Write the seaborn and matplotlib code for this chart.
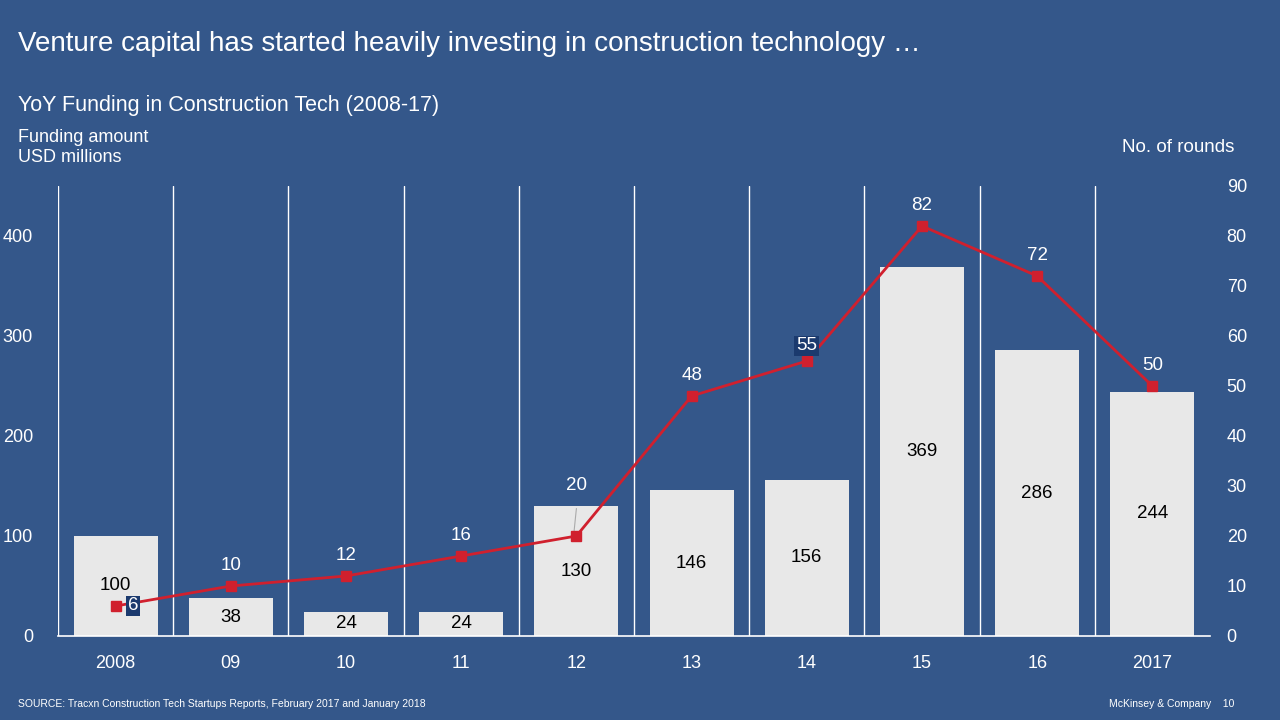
import matplotlib
matplotlib.use("Agg")
import matplotlib.pyplot as plt
import seaborn as sns
import pandas as pd
import numpy as np

years = ["2008", "09", "10", "11", "12", "13", "14", "15", "16", "2017"]
funding = [100, 38, 24, 24, 130, 146, 156, 369, 286, 244]
rounds = [6, 10, 12, 16, 20, 48, 55, 82, 72, 50]

BG = "#34578A"
BAR = "#E8E8E8"
RED = "#D0202E"
BOX = "#1B3A6E"

sns.set_theme(style="white")
plt.rcParams['font.family'] = ['Liberation Sans', 'DejaVu Sans']

fig = plt.figure(figsize=(12.8, 7.2), dpi=100, facecolor=BG)
ax = fig.add_axes([58/1280, 1-636/720, 1152/1280, 450/720])
ax.set_facecolor(BG)
df = pd.DataFrame({"year": years, "funding": funding})
sns.barplot(data=df, x="year", y="funding", color=BAR, width=0.73, ax=ax, saturation=1,
            edgecolor="none")
ax.set_xlim(-0.5, 9.5)
ax.set_ylim(0, 450)
for s in ["top", "right", "left"]:
    ax.spines[s].set_visible(False)
ax.spines["bottom"].set_color("white")
ax.spines["bottom"].set_linewidth(1.2)
ax.set_xlabel(""); ax.set_ylabel("")
ax.set_yticks([0, 100, 200, 300, 400])
ax.tick_params(axis="y", colors="white", labelsize=13, length=0, pad=18)
ax.tick_params(axis="x", colors="white", labelsize=13, length=0, pad=14)
for t in ax.get_yticklabels() + ax.get_xticklabels():
    t.set_color("white")
for i in range(10):
    ax.axvline(i - 0.5, color="white", lw=1, zorder=0.5)
for i, v in enumerate(funding):
    ax.text(i, v / 2, str(v), ha="center", va="center", fontsize=13.5, color="black", zorder=5)

ax2 = ax.twinx()
ax2.set_ylim(0, 90)
ax2.set_xlim(-0.5, 9.5)
ax2.plot(range(10), rounds, color=RED, lw=2, marker="s", markersize=7, zorder=4)
for s in ["top", "right", "left", "bottom"]:
    ax2.spines[s].set_visible(False)
ax2.set_yticks(range(0, 91, 10))
ax2.tick_params(axis="y", colors="white", labelsize=13, length=0, pad=12)
for t in ax2.get_yticklabels():
    t.set_color("white")
for i, r in enumerate(rounds):
    if i == 0:
        ax2.text(i + 0.15, r, str(r), ha="center", va="center", fontsize=13.5, color="white",
                 bbox=dict(boxstyle="square,pad=0.1", fc=BOX, ec="none"), zorder=6)
    elif r == 55:
        ax2.text(i, r + 3, str(r), ha="center", va="center", fontsize=13.5, color="white",
                 bbox=dict(boxstyle="square,pad=0.1", fc=BOX, ec="none"), zorder=6)
    elif i == 4:
        ax2.text(i, r + 10, str(r), ha="center", va="center", fontsize=13.5, color="white", zorder=6)
    else:
        ax2.text(i, r + 4, str(r), ha="center", va="center", fontsize=13.5, color="white", zorder=6)
ax2.plot([3.98, 4.0], [21, 25.5], color="#AAAAAA", lw=0.8, zorder=3)

fig.text(18/1280, 1-44/720, "Venture capital has started heavily investing in construction technology …",
         color="white", fontsize=20, va="center")
fig.text(18/1280, 1-105/720, "YoY Funding in Construction Tech (2008-17)", color="white", fontsize=15.5, va="center")
fig.text(18/1280, 1-137/720, "Funding amount", color="white", fontsize=13, va="center")
fig.text(18/1280, 1-158/720, "USD millions", color="white", fontsize=13, va="center")
fig.text(1234/1280, 1-148/720, "No. of rounds", color="white", fontsize=13.5, va="center", ha="right")
fig.text(18/1280, 1-704/720, "SOURCE: Tracxn Construction Tech Startups Reports, February 2017 and January 2018",
         color="white", fontsize=7.5, va="center")
fig.text(1234/1280, 1-704/720, "McKinsey & Company    10", color="white", fontsize=7.5, va="center", ha="right")

fig.savefig("out.png", dpi=100, facecolor=BG)
